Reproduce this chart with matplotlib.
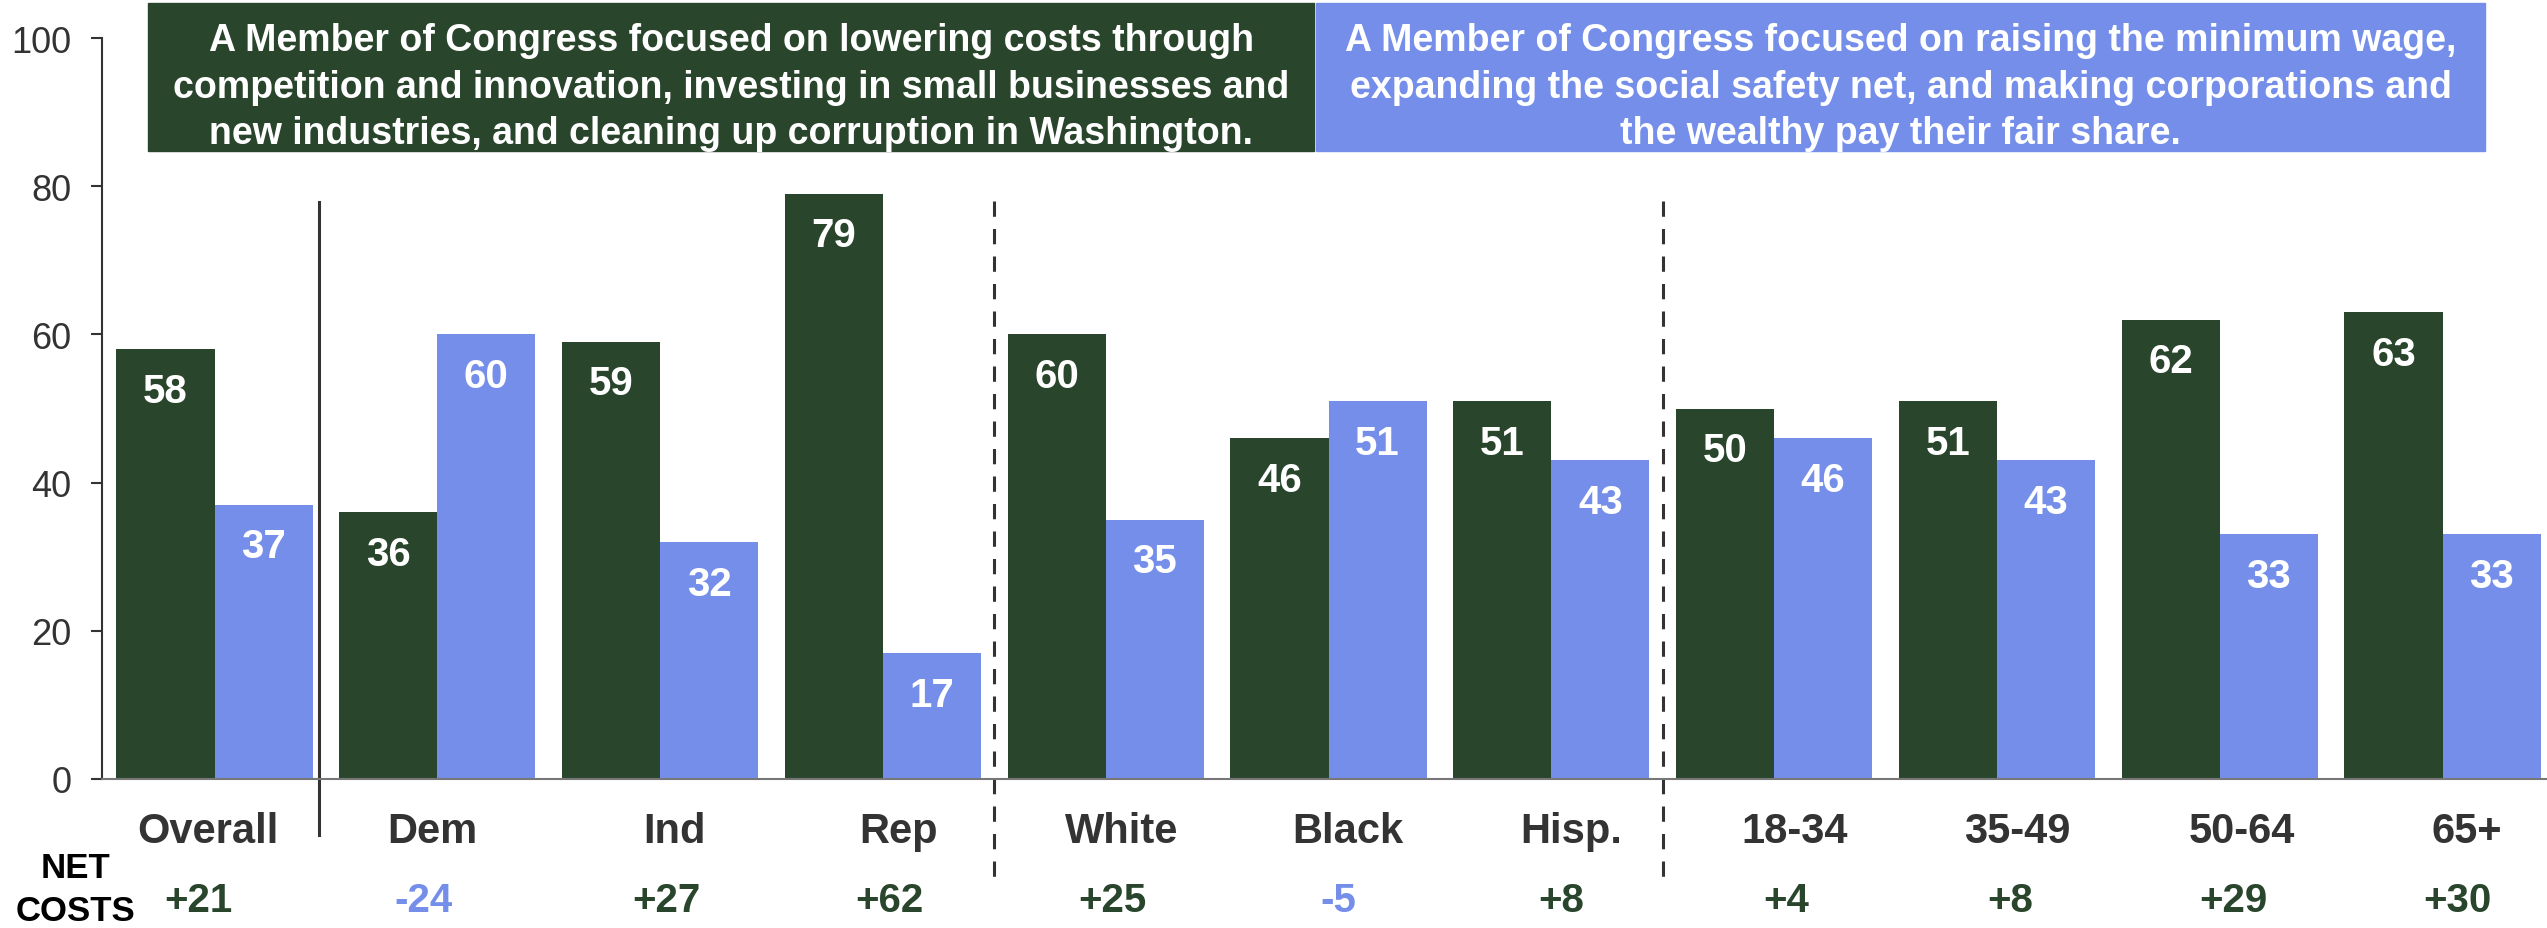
import matplotlib
matplotlib.use("Agg")
import matplotlib.pyplot as plt
from matplotlib.patches import Rectangle

# --- data ---
categories = ["Overall", "Dem", "Ind", "Rep", "White", "Black", "Hisp.",
              "18-34", "35-49", "50-64", "65+"]
costs_vals = [58, 36, 59, 79, 60, 46, 51, 50, 51, 62, 63]
wage_vals = [37, 60, 32, 17, 35, 51, 43, 46, 43, 33, 33]
net_costs = [21, -24, 27, 62, 25, -5, 8, 4, 8, 29, 30]
yticks = [0, 20, 40, 60, 80, 100]

costs_label = ("A Member of Congress focused on lowering costs through\n"
               "competition and innovation, investing in small businesses and\n"
               "new industries, and cleaning up corruption in Washington.")
wage_label = ("A Member of Congress focused on raising the minimum wage,\n"
              "expanding the social safety net, and making corporations and\n"
              "the wealthy pay their fair share.")

# the label rows below the axis sit a little off the bar centres in the original
cat_nudge = [-0.03, -0.02, 0.065, 0.07, 0.07, 0.085, 0.09, 0.09, 0.09, 0.1, 0.11]
net_nudge = [-0.074, -0.06, 0.027, 0.03, 0.03, 0.045, 0.045, 0.055, 0.06, 0.06, 0.065]

GREEN = "#29452C"
BLUE = "#748EEA"
plt.rcParams["font.family"] = ["Liberation Sans", "DejaVu Sans"]

fig = plt.figure(figsize=(25.47, 9.29), dpi=100)
ax = fig.add_axes([0.04005, 0.1604, 0.95995, 0.7976])

bw = 0.44
x = list(range(len(categories)))
ax.bar([i - bw / 2 for i in x], costs_vals, width=bw, color=GREEN, zorder=2)
ax.bar([i + bw / 2 for i in x], wage_vals, width=bw, color=BLUE, zorder=2)

for i in x:
    for xo, v in ((i - bw / 2, costs_vals[i]), (i + bw / 2, wage_vals[i])):
        ax.annotate(str(v), (xo, v), xytext=(0, -30), textcoords="offset points",
                    ha="center", va="center", color="white", fontsize=29,
                    fontweight="bold", zorder=3)

ax.set_xlim(-0.505, 10.469)
ax.set_ylim(0, 100)
ax.set_yticks(yticks)
ax.tick_params(axis="y", labelsize=26, length=8, width=1.5, color="#333333",
               labelcolor="#333333", pad=14)
ax.set_xticks([])
for s in ("top", "right"):
    ax.spines[s].set_visible(False)
ax.spines["left"].set_color("#333333")
ax.spines["left"].set_linewidth(1.5)
ax.spines["bottom"].set_color("#777777")
ax.spines["bottom"].set_linewidth(1.5)

# category labels and net row
for i, c in enumerate(categories):
    ax.text(i + cat_nudge[i], -8.5, c, ha="center", va="baseline", fontsize=30,
            fontweight="bold", color="#333333", clip_on=False)
    n = net_costs[i]
    ax.text(i + net_nudge[i], -17.8, f"{n:+d}", ha="center", va="baseline",
            fontsize=29, fontweight="bold", color=GREEN if n > 0 else BLUE,
            clip_on=False)
ax.text(-0.626, -13.2, "NET", ha="center", va="baseline", fontsize=25,
        fontweight="bold", color="black", clip_on=False)
ax.text(-0.626, -19.0, "COSTS", ha="center", va="baseline", fontsize=25,
        fontweight="bold", color="black", clip_on=False)

# separators
ax.plot([0.469, 0.469], [77.9, -7.6], color="#333333", lw=2.2, clip_on=False, zorder=1)
for xs in (3.5, 6.5):
    ax.plot([xs, xs], [78, -14.7], color="#333333", lw=2.2, ls=(0, (5, 4)),
            clip_on=False, zorder=1)

# legend boxes
box_y0, box_y1 = 84.75, 104.7
for x0, x1, col, txt in ((-0.3, 4.937, GREEN, costs_label),
                         (4.946, 10.19, BLUE, wage_label)):
    ax.add_patch(Rectangle((x0, box_y0), x1 - x0, box_y1 - box_y0, color=col,
                           clip_on=False, zorder=4))
    ax.text((x0 + x1) / 2, (box_y0 + box_y1) / 2 - 1.3, txt, ha="center",
            va="center", fontsize=27, fontweight="bold", color="white",
            linespacing=1.37, zorder=5, clip_on=False)

fig.savefig("out.png", dpi=100)
